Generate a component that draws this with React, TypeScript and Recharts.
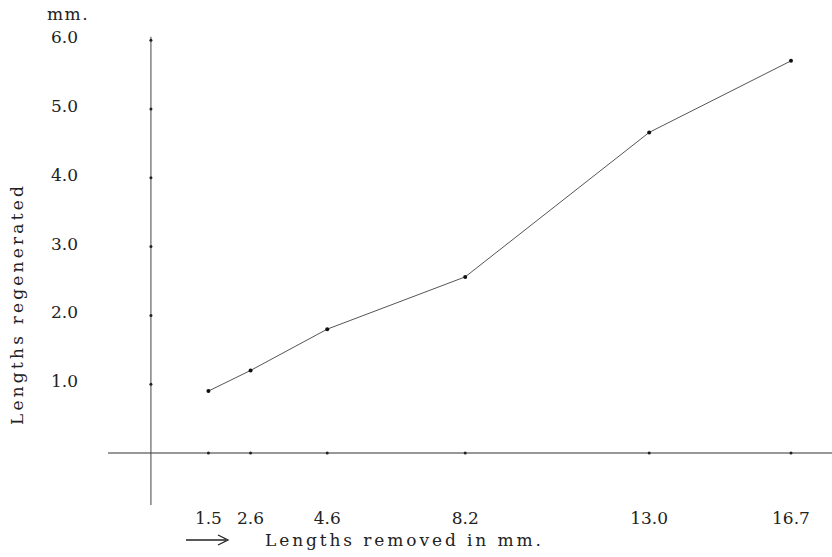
import React from 'react';
import { ComposedChart, Line, Scatter, XAxis, YAxis, ReferenceLine, Label } from 'recharts';

// Lengths removed (mm) and the lengths regenerated (mm)
const removed = [1.5, 2.6, 4.6, 8.2, 13.0, 16.7];
const regenerated = [0.9, 1.2, 1.8, 2.56, 4.66, 5.7];
const xTicks = [1.5, 2.6, 4.6, 8.2, 13.0, 16.7];
const yTicks = [1, 2, 3, 4, 5, 6];

const FONT = 'DejaVu Serif';
const INK = '#222';

const curve = removed.map((x, i) => ({ x, y: regenerated[i] }));
const xDots = xTicks.map((x) => ({ x, y: 0 }));
const yDots = yTicks.map((y) => ({ x: 0, y }));

const XTick = ({ x, y, payload }: any) => (
  <text x={x} y={y} dy={19} textAnchor="middle" fontFamily={FONT} fontSize={17} fill={INK}>
    {Number(payload.value).toFixed(1)}
  </text>
);

const YTick = ({ x, y, payload }: any) => (
  <text x={x} y={y} dy={3} textAnchor="end" fontFamily={FONT} fontSize={17} fill={INK}>
    {Number(payload.value).toFixed(1)}
  </text>
);

const XTitle = () => (
  <g>
    <line x1={186} y1={540} x2={226} y2={540} stroke={INK} strokeWidth={1.3} />
    <path d="M218,535 L228,540 L218,545" fill="none" stroke={INK} strokeWidth={1.3} />
    <text x={265} y={546} fontFamily={FONT} fontSize={17} letterSpacing={2.9} fill={INK}>
      Lengths removed in mm.
    </text>
  </g>
);

const YTitle = () => (
  <g>
    <text x={47} y={20} fontFamily={FONT} fontSize={17} letterSpacing={1.5} fill={INK}>
      mm.
    </text>
    <text
      x={17}
      y={304}
      transform="rotate(-90 17 304)"
      textAnchor="middle"
      dominantBaseline="central"
      fontFamily={FONT}
      fontSize={17}
      letterSpacing={3.2}
      fill={INK}
    >
      Lengths regenerated
    </text>
  </g>
);

const tinyDot = (p: any) => <circle cx={p.cx} cy={p.cy} r={1.5} fill={INK} />;

export default function App() {
  return (
    <div style={{ position: 'absolute', left: 0, top: 0, width: 832, height: 557, background: '#fff' }}>
      <ComposedChart width={832} height={557} margin={{ top: 22, right: 0, bottom: 0, left: 0 }}>
        <XAxis
          type="number"
          dataKey="x"
          domain={[-1.12, 17.77]}
          allowDataOverflow
          ticks={xTicks}
          tick={XTick}
          tickSize={0}
          tickMargin={0}
          tickLine={false}
          axisLine={false}
          height={52}
        >
          <Label content={XTitle} />
        </XAxis>
        <YAxis
          type="number"
          dataKey="y"
          domain={[-0.756, 6.265]}
          allowDataOverflow
          ticks={yTicks}
          tick={YTick}
          tickSize={0}
          tickMargin={30}
          tickLine={false}
          axisLine={false}
          width={108}
        >
          <Label content={YTitle} />
        </YAxis>
        <ReferenceLine y={0} stroke="#333" strokeWidth={1.2} />
        <ReferenceLine
          segment={[
            { x: 0, y: -0.756 },
            { x: 0, y: 6.05 },
          ]}
          stroke="#444"
          strokeWidth={1}
        />
        <Scatter data={xDots} shape={tinyDot} isAnimationActive={false} />
        <Scatter data={yDots} shape={tinyDot} isAnimationActive={false} />
        <Line
          data={curve}
          dataKey="y"
          type="linear"
          stroke="#555"
          strokeWidth={1}
          dot={{ r: 2, fill: '#111', stroke: 'none' }}
          isAnimationActive={false}
        />
      </ComposedChart>
    </div>
  );
}
